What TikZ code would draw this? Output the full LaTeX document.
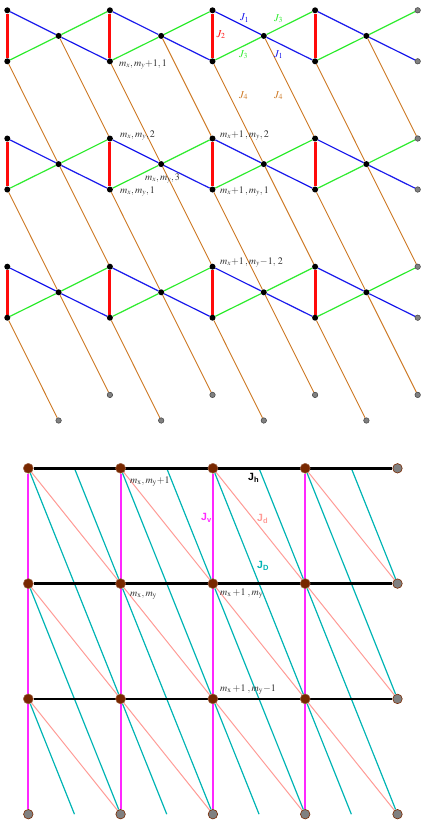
\documentclass[tikz,border=0pt]{standalone}
\usepackage{mathptmx}
\usepackage{fontspec}
\setmainfont{Liberation Serif}
\newfontfamily\jfont{Liberation Sans}
\usetikzlibrary{backgrounds}
\definecolor{jone}{RGB}{25,25,235}
\definecolor{jtwo}{RGB}{255,10,10}
\definecolor{jthree}{RGB}{45,235,45}
\definecolor{jfour}{RGB}{205,120,35}
\definecolor{jh}{RGB}{0,0,0}
\definecolor{jv}{RGB}{255,40,255}
\definecolor{jd}{RGB}{255,155,150}
\definecolor{jD}{RGB}{0,180,180}
\definecolor{sitefill}{RGB}{120,40,0}
\newcommand{\jsub}[1]{{\jfont\bfseries J\raisebox{-2.8pt}{\fontsize{7.5}{8}\selectfont #1}}}
\begin{document}
\begin{tikzpicture}[x=1pt,y=-1pt,
  dot/.style={circle,fill=black,inner sep=0pt,minimum size=6pt},
  ghost/.style={circle,fill=gray,draw=black!75,line width=0.5pt,inner sep=0pt,minimum size=5.5pt},
  site/.style={circle,fill=sitefill,draw=sitefill!70!white,line width=0.5pt,inner sep=0pt,minimum size=10pt},
  siteghost/.style={circle,fill=gray,draw=sitefill,line width=0.6pt,inner sep=0pt,minimum size=9.5pt},
  lbl/.style={anchor=base west,inner sep=0pt,text=black!80,font=\fontsize{10}{11}\selectfont},
  jlbl/.style={anchor=base west,inner sep=0pt,font=\fontsize{10.5}{11}\selectfont}]
\useasboundingbox (0,0) rectangle (423,820);
% upper lattice
\foreach \r in {1,2,3}{
  \foreach \i in {0,...,3}{
    \node[dot] (t\r\i) at ({7.3+102.6*\i},{10.3+128.2*(\r-1)}) {};
    \node[dot] (b\r\i) at ({7.3+102.6*\i},{61.3+128.2*(\r-1)}) {};
    \node[dot] (m\r\i) at ({58.6+102.6*\i},{35.9+128.2*(\r-1)}) {};
  }
  \node[ghost] (t\r4) at (417.7,{10.3+128.2*(\r-1)}) {};
  \node[ghost] (b\r4) at (417.7,{61.3+128.2*(\r-1)}) {};
}
\foreach \i in {0,...,3}{
  \pgfmathtruncatemacro\j{\i+1}
  \node[ghost] (m4\i) at ({58.6+102.6*\i},420.5) {};
  \node[ghost] (t4\j) at ({7.3+102.6*\j},394.9) {};
}
\begin{scope}[on background layer]
\foreach \r in {1,2,3}{
  \foreach \i in {0,...,3}{
    \pgfmathtruncatemacro\j{\i+1}
    \pgfmathtruncatemacro\s{\r+1}
    \draw[jfour,line width=0.9pt] (m\r\i) -- (t\s\j);
    \draw[jfour,line width=0.9pt] (b\r\i) -- (m\s\i);
    \draw[jone,line width=1.2pt] (t\r\i) -- (m\r\i) -- (b\r\j);
    \draw[jthree,line width=1.2pt] (b\r\i) -- (m\r\i) -- (t\r\j);
    \draw[jtwo,line width=3pt] (t\r\i) -- (b\r\i);
  }
}
\end{scope}
\node[lbl] (l1) at (119,66) {$m_x,m_y{+}1,1$};
\node[lbl] (l2) at (120,137) {$m_x,m_y,2$};
\node[lbl] (l3) at (220,137) {$m_x{+}1\,,m_y,2$};
\node[lbl] (l4) at (145,180) {$m_x,m_y,3$};
\node[lbl] (l5) at (120,193) {$m_x,m_y,1$};
\node[lbl] (l6) at (220,193) {$m_x{+}1\,,m_y,1$};
\node[lbl] (l7) at (220,264) {$m_x{+}1\,,m_y{-}1,\,2$};
\node[jlbl,text=jone] (j1a) at (240,20.5) {$J_1$};
\node[jlbl,text=jthree] (j3a) at (274,21) {$J_3$};
\node[jlbl,text=jtwo] (j2) at (216.5,37) {$J_2$};
\node[jlbl,text=jthree] (j3b) at (239,57) {$J_3$};
\node[jlbl,text=jone] (j1b) at (274,57) {$J_1$};
\node[jlbl,text=jfour] (j4a) at (239,98) {$J_4$};
\node[jlbl,text=jfour] (j4b) at (274,98) {$J_4$};
% lower lattice
\foreach \r in {1,2,3}{
  \foreach \i in {0,...,3}{
    \node[site] (s\r\i) at ({28.3+92.3*\i},{468.3+115.3*(\r-1)}) {};
  }
  \node[siteghost] (s\r4) at (397.5,{468.3+115.3*(\r-1)}) {};
}
\foreach \i in {0,...,4}{
  \node[siteghost] (s4\i) at ({28.3+92.3*\i},814.2) {};
}
\foreach \r in {1,...,4}{
  \foreach \i in {0,...,3}{
    \coordinate (h\r\i) at ({74.45+92.3*\i},{468.3+115.3*(\r-1)});
  }
}
\begin{scope}[on background layer]
\foreach \r in {1,2,3}{
  \foreach \i in {0,...,3}{
    \pgfmathtruncatemacro\j{\i+1}
    \pgfmathtruncatemacro\s{\r+1}
    \draw[jd,line width=1pt] (s\r\i) -- (s\s\j);
    \draw[jD,line width=1.2pt] (s\r\i) -- (h\s\i);
    \draw[jD,line width=1.2pt] (h\r\i) -- (s\s\j);
  }
}
\foreach \i in {0,...,3}{
  \draw[jv,line width=2pt] (s1\i) -- (s4\i);
}
\foreach \r in {1,2,3}{
  \draw[jh,line width=2.6pt] (s\r0) -- (s\r4);
}
\end{scope}
\node[lbl] (n1) at (130,483) {$m_{\mathrm{x}},m_{\mathrm{y}}{+}1$};
\node[lbl] (n2) at (130,596) {$m_{\mathrm{x}},m_{\mathrm{y}}$};
\node[lbl] (n3) at (220,595) {$m_{\mathrm{x}}\,{+}1\;,m_{\mathrm{y}}$};
\node[lbl] (n4) at (220,691) {$m_{\mathrm{x}}\,{+}1\;,m_{\mathrm{y}}{-}1$};
\node[jlbl,text=jh] (jh) at (248,480) {\jsub{h}};
\node[jlbl,text=jv] (jv) at (201,520) {\jsub{v}};
\node[jlbl,text=jd] (jd) at (257,521) {\jsub{d}};
\node[jlbl,text=jD] (jD) at (257,568) {\jsub{D}};
\end{tikzpicture}
\end{document}
